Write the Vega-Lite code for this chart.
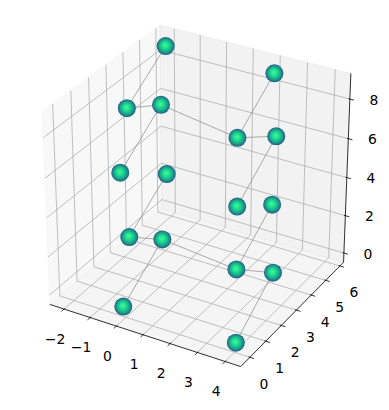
{
  "$schema": "https://vega.github.io/schema/vega-lite/v6.json",
  "width": 389,
  "height": 410,
  "padding": 0,
  "autosize": {"type": "none"},
  "background": "white",
  "config": {"view": {"stroke": null}},
  "data": {"values": [
    {"kind": "pane", "g": "px", "k": 0, "x": -2.55, "y": -0.57, "z": -0.5},
    {"kind": "pane", "g": "px", "k": 1, "x": -2.55, "y": 6.26, "z": -0.5},
    {"kind": "pane", "g": "px", "k": 2, "x": -2.55, "y": 6.26, "z": 9.27},
    {"kind": "pane", "g": "px", "k": 3, "x": -2.55, "y": -0.57, "z": 9.27},
    {"kind": "pane", "g": "py", "k": 0, "x": -2.55, "y": 6.26, "z": -0.5},
    {"kind": "pane", "g": "py", "k": 1, "x": 4.56, "y": 6.26, "z": -0.5},
    {"kind": "pane", "g": "py", "k": 2, "x": 4.56, "y": 6.26, "z": 9.27},
    {"kind": "pane", "g": "py", "k": 3, "x": -2.55, "y": 6.26, "z": 9.27},
    {"kind": "pane", "g": "pz", "k": 0, "x": -2.55, "y": -0.57, "z": -0.5},
    {"kind": "pane", "g": "pz", "k": 1, "x": 4.56, "y": -0.57, "z": -0.5},
    {"kind": "pane", "g": "pz", "k": 2, "x": 4.56, "y": 6.26, "z": -0.5},
    {"kind": "pane", "g": "pz", "k": 3, "x": -2.55, "y": 6.26, "z": -0.5},

    {"kind": "grid", "g": "gx-2", "k": 0, "x": -2, "y": -0.57, "z": -0.5},
    {"kind": "grid", "g": "gx-2", "k": 1, "x": -2, "y": 6.26, "z": -0.5},
    {"kind": "grid", "g": "gx-2", "k": 2, "x": -2, "y": 6.26, "z": 9.27},
    {"kind": "grid", "g": "gx-1", "k": 0, "x": -1, "y": -0.57, "z": -0.5},
    {"kind": "grid", "g": "gx-1", "k": 1, "x": -1, "y": 6.26, "z": -0.5},
    {"kind": "grid", "g": "gx-1", "k": 2, "x": -1, "y": 6.26, "z": 9.27},
    {"kind": "grid", "g": "gx0", "k": 0, "x": 0, "y": -0.57, "z": -0.5},
    {"kind": "grid", "g": "gx0", "k": 1, "x": 0, "y": 6.26, "z": -0.5},
    {"kind": "grid", "g": "gx0", "k": 2, "x": 0, "y": 6.26, "z": 9.27},
    {"kind": "grid", "g": "gx1", "k": 0, "x": 1, "y": -0.57, "z": -0.5},
    {"kind": "grid", "g": "gx1", "k": 1, "x": 1, "y": 6.26, "z": -0.5},
    {"kind": "grid", "g": "gx1", "k": 2, "x": 1, "y": 6.26, "z": 9.27},
    {"kind": "grid", "g": "gx2", "k": 0, "x": 2, "y": -0.57, "z": -0.5},
    {"kind": "grid", "g": "gx2", "k": 1, "x": 2, "y": 6.26, "z": -0.5},
    {"kind": "grid", "g": "gx2", "k": 2, "x": 2, "y": 6.26, "z": 9.27},
    {"kind": "grid", "g": "gx3", "k": 0, "x": 3, "y": -0.57, "z": -0.5},
    {"kind": "grid", "g": "gx3", "k": 1, "x": 3, "y": 6.26, "z": -0.5},
    {"kind": "grid", "g": "gx3", "k": 2, "x": 3, "y": 6.26, "z": 9.27},
    {"kind": "grid", "g": "gx4", "k": 0, "x": 4, "y": -0.57, "z": -0.5},
    {"kind": "grid", "g": "gx4", "k": 1, "x": 4, "y": 6.26, "z": -0.5},
    {"kind": "grid", "g": "gx4", "k": 2, "x": 4, "y": 6.26, "z": 9.27},

    {"kind": "grid", "g": "gy0", "k": 0, "x": 4.56, "y": 0, "z": -0.5},
    {"kind": "grid", "g": "gy0", "k": 1, "x": -2.55, "y": 0, "z": -0.5},
    {"kind": "grid", "g": "gy0", "k": 2, "x": -2.55, "y": 0, "z": 9.27},
    {"kind": "grid", "g": "gy1", "k": 0, "x": 4.56, "y": 1, "z": -0.5},
    {"kind": "grid", "g": "gy1", "k": 1, "x": -2.55, "y": 1, "z": -0.5},
    {"kind": "grid", "g": "gy1", "k": 2, "x": -2.55, "y": 1, "z": 9.27},
    {"kind": "grid", "g": "gy2", "k": 0, "x": 4.56, "y": 2, "z": -0.5},
    {"kind": "grid", "g": "gy2", "k": 1, "x": -2.55, "y": 2, "z": -0.5},
    {"kind": "grid", "g": "gy2", "k": 2, "x": -2.55, "y": 2, "z": 9.27},
    {"kind": "grid", "g": "gy3", "k": 0, "x": 4.56, "y": 3, "z": -0.5},
    {"kind": "grid", "g": "gy3", "k": 1, "x": -2.55, "y": 3, "z": -0.5},
    {"kind": "grid", "g": "gy3", "k": 2, "x": -2.55, "y": 3, "z": 9.27},
    {"kind": "grid", "g": "gy4", "k": 0, "x": 4.56, "y": 4, "z": -0.5},
    {"kind": "grid", "g": "gy4", "k": 1, "x": -2.55, "y": 4, "z": -0.5},
    {"kind": "grid", "g": "gy4", "k": 2, "x": -2.55, "y": 4, "z": 9.27},
    {"kind": "grid", "g": "gy5", "k": 0, "x": 4.56, "y": 5, "z": -0.5},
    {"kind": "grid", "g": "gy5", "k": 1, "x": -2.55, "y": 5, "z": -0.5},
    {"kind": "grid", "g": "gy5", "k": 2, "x": -2.55, "y": 5, "z": 9.27},
    {"kind": "grid", "g": "gy6", "k": 0, "x": 4.56, "y": 6, "z": -0.5},
    {"kind": "grid", "g": "gy6", "k": 1, "x": -2.55, "y": 6, "z": -0.5},
    {"kind": "grid", "g": "gy6", "k": 2, "x": -2.55, "y": 6, "z": 9.27},

    {"kind": "grid", "g": "gz0", "k": 0, "x": -2.55, "y": -0.57, "z": 0},
    {"kind": "grid", "g": "gz0", "k": 1, "x": -2.55, "y": 6.26, "z": 0},
    {"kind": "grid", "g": "gz0", "k": 2, "x": 4.56, "y": 6.26, "z": 0},
    {"kind": "grid", "g": "gz2", "k": 0, "x": -2.55, "y": -0.57, "z": 2},
    {"kind": "grid", "g": "gz2", "k": 1, "x": -2.55, "y": 6.26, "z": 2},
    {"kind": "grid", "g": "gz2", "k": 2, "x": 4.56, "y": 6.26, "z": 2},
    {"kind": "grid", "g": "gz4", "k": 0, "x": -2.55, "y": -0.57, "z": 4},
    {"kind": "grid", "g": "gz4", "k": 1, "x": -2.55, "y": 6.26, "z": 4},
    {"kind": "grid", "g": "gz4", "k": 2, "x": 4.56, "y": 6.26, "z": 4},
    {"kind": "grid", "g": "gz6", "k": 0, "x": -2.55, "y": -0.57, "z": 6},
    {"kind": "grid", "g": "gz6", "k": 1, "x": -2.55, "y": 6.26, "z": 6},
    {"kind": "grid", "g": "gz6", "k": 2, "x": 4.56, "y": 6.26, "z": 6},
    {"kind": "grid", "g": "gz8", "k": 0, "x": -2.55, "y": -0.57, "z": 8},
    {"kind": "grid", "g": "gz8", "k": 1, "x": -2.55, "y": 6.26, "z": 8},
    {"kind": "grid", "g": "gz8", "k": 2, "x": 4.56, "y": 6.26, "z": 8},

    {"kind": "axis", "g": "ax", "k": 0, "x": -2.55, "y": -0.57, "z": -0.5},
    {"kind": "axis", "g": "ax", "k": 1, "x": 4.56, "y": -0.57, "z": -0.5},
    {"kind": "axis", "g": "ax", "k": 2, "x": 4.56, "y": 6.26, "z": -0.5},
    {"kind": "axis", "g": "ax", "k": 3, "x": 4.56, "y": 6.26, "z": 9.27},

    {"kind": "tick", "g": "tx-2", "k": 0, "x": -2, "y": -0.52, "z": -0.5},
    {"kind": "tick", "g": "tx-2", "k": 1, "x": -2, "y": -0.72, "z": -0.5},
    {"kind": "tick", "g": "tx-1", "k": 0, "x": -1, "y": -0.52, "z": -0.5},
    {"kind": "tick", "g": "tx-1", "k": 1, "x": -1, "y": -0.72, "z": -0.5},
    {"kind": "tick", "g": "tx0", "k": 0, "x": 0, "y": -0.52, "z": -0.5},
    {"kind": "tick", "g": "tx0", "k": 1, "x": 0, "y": -0.72, "z": -0.5},
    {"kind": "tick", "g": "tx1", "k": 0, "x": 1, "y": -0.52, "z": -0.5},
    {"kind": "tick", "g": "tx1", "k": 1, "x": 1, "y": -0.72, "z": -0.5},
    {"kind": "tick", "g": "tx2", "k": 0, "x": 2, "y": -0.52, "z": -0.5},
    {"kind": "tick", "g": "tx2", "k": 1, "x": 2, "y": -0.72, "z": -0.5},
    {"kind": "tick", "g": "tx3", "k": 0, "x": 3, "y": -0.52, "z": -0.5},
    {"kind": "tick", "g": "tx3", "k": 1, "x": 3, "y": -0.72, "z": -0.5},
    {"kind": "tick", "g": "tx4", "k": 0, "x": 4, "y": -0.52, "z": -0.5},
    {"kind": "tick", "g": "tx4", "k": 1, "x": 4, "y": -0.72, "z": -0.5},
    {"kind": "tick", "g": "ty0", "k": 0, "x": 4.51, "y": 0, "z": -0.5},
    {"kind": "tick", "g": "ty0", "k": 1, "x": 4.71, "y": 0, "z": -0.5},
    {"kind": "tick", "g": "ty1", "k": 0, "x": 4.51, "y": 1, "z": -0.5},
    {"kind": "tick", "g": "ty1", "k": 1, "x": 4.71, "y": 1, "z": -0.5},
    {"kind": "tick", "g": "ty2", "k": 0, "x": 4.51, "y": 2, "z": -0.5},
    {"kind": "tick", "g": "ty2", "k": 1, "x": 4.71, "y": 2, "z": -0.5},
    {"kind": "tick", "g": "ty3", "k": 0, "x": 4.51, "y": 3, "z": -0.5},
    {"kind": "tick", "g": "ty3", "k": 1, "x": 4.71, "y": 3, "z": -0.5},
    {"kind": "tick", "g": "ty4", "k": 0, "x": 4.51, "y": 4, "z": -0.5},
    {"kind": "tick", "g": "ty4", "k": 1, "x": 4.71, "y": 4, "z": -0.5},
    {"kind": "tick", "g": "ty5", "k": 0, "x": 4.51, "y": 5, "z": -0.5},
    {"kind": "tick", "g": "ty5", "k": 1, "x": 4.71, "y": 5, "z": -0.5},
    {"kind": "tick", "g": "ty6", "k": 0, "x": 4.51, "y": 6, "z": -0.5},
    {"kind": "tick", "g": "ty6", "k": 1, "x": 4.71, "y": 6, "z": -0.5},
    {"kind": "tick", "g": "tz0", "k": 0, "x": 4.51, "y": 6.26, "z": 0},
    {"kind": "tick", "g": "tz0", "k": 1, "x": 4.71, "y": 6.26, "z": 0},
    {"kind": "tick", "g": "tz2", "k": 0, "x": 4.51, "y": 6.26, "z": 2},
    {"kind": "tick", "g": "tz2", "k": 1, "x": 4.71, "y": 6.26, "z": 2},
    {"kind": "tick", "g": "tz4", "k": 0, "x": 4.51, "y": 6.26, "z": 4},
    {"kind": "tick", "g": "tz4", "k": 1, "x": 4.71, "y": 6.26, "z": 4},
    {"kind": "tick", "g": "tz6", "k": 0, "x": 4.51, "y": 6.26, "z": 6},
    {"kind": "tick", "g": "tz6", "k": 1, "x": 4.71, "y": 6.26, "z": 6},
    {"kind": "tick", "g": "tz8", "k": 0, "x": 4.51, "y": 6.26, "z": 8},
    {"kind": "tick", "g": "tz8", "k": 1, "x": 4.71, "y": 6.26, "z": 8},

    {"kind": "lab", "g": "x", "t": "−2", "x": -2, "y": -0.57, "z": -0.5},
    {"kind": "lab", "g": "x", "t": "−1", "x": -1, "y": -0.57, "z": -0.5},
    {"kind": "lab", "g": "x", "t": "0", "x": 0, "y": -0.57, "z": -0.5},
    {"kind": "lab", "g": "x", "t": "1", "x": 1, "y": -0.57, "z": -0.5},
    {"kind": "lab", "g": "x", "t": "2", "x": 2, "y": -0.57, "z": -0.5},
    {"kind": "lab", "g": "x", "t": "3", "x": 3, "y": -0.57, "z": -0.5},
    {"kind": "lab", "g": "x", "t": "4", "x": 4, "y": -0.57, "z": -0.5},
    {"kind": "lab", "g": "y", "t": "0", "x": 4.56, "y": 0, "z": -0.5},
    {"kind": "lab", "g": "y", "t": "1", "x": 4.56, "y": 1, "z": -0.5},
    {"kind": "lab", "g": "y", "t": "2", "x": 4.56, "y": 2, "z": -0.5},
    {"kind": "lab", "g": "y", "t": "3", "x": 4.56, "y": 3, "z": -0.5},
    {"kind": "lab", "g": "y", "t": "4", "x": 4.56, "y": 4, "z": -0.5},
    {"kind": "lab", "g": "y", "t": "5", "x": 4.56, "y": 5, "z": -0.5},
    {"kind": "lab", "g": "y", "t": "6", "x": 4.56, "y": 6, "z": -0.5},
    {"kind": "lab", "g": "z", "t": "0", "x": 4.56, "y": 6.26, "z": 0},
    {"kind": "lab", "g": "z", "t": "2", "x": 4.56, "y": 6.26, "z": 2},
    {"kind": "lab", "g": "z", "t": "4", "x": 4.56, "y": 6.26, "z": 4},
    {"kind": "lab", "g": "z", "t": "6", "x": 4.56, "y": 6.26, "z": 6},
    {"kind": "lab", "g": "z", "t": "8", "x": 4.56, "y": 6.26, "z": 8},

    {"kind": "edge", "g": "e1", "k": 0, "x": -2.05, "y": 5.8, "z": 8.65},
    {"kind": "edge", "g": "e1", "k": 1, "x": -1.72, "y": 2.9, "z": 7.46},
    {"kind": "edge", "g": "e2", "k": 0, "x": -1.72, "y": 2.9, "z": 7.46},
    {"kind": "edge", "g": "e2", "k": 1, "x": -0.43, "y": 2.9, "z": 8.10},
    {"kind": "edge", "g": "e3", "k": 0, "x": -0.43, "y": 2.9, "z": 8.10},
    {"kind": "edge", "g": "e3", "k": 1, "x": -0.11, "y": 0, "z": 6.83},
    {"kind": "edge", "g": "e4", "k": 0, "x": -0.43, "y": 2.9, "z": 8.10},
    {"kind": "edge", "g": "e4", "k": 1, "x": 2.37, "y": 2.9, "z": 7.50},
    {"kind": "edge", "g": "e5", "k": 0, "x": 2.05, "y": 5.8, "z": 8.69},
    {"kind": "edge", "g": "e5", "k": 1, "x": 2.37, "y": 2.9, "z": 7.50},
    {"kind": "edge", "g": "e6", "k": 0, "x": 2.37, "y": 2.9, "z": 7.50},
    {"kind": "edge", "g": "e6", "k": 1, "x": 3.75, "y": 2.9, "z": 8.09},
    {"kind": "edge", "g": "e7", "k": 0, "x": 3.75, "y": 2.9, "z": 8.09},
    {"kind": "edge", "g": "e7", "k": 1, "x": 4.05, "y": 0, "z": 6.83},
    {"kind": "edge", "g": "e8", "k": 0, "x": -2.05, "y": 5.8, "z": 1.93},
    {"kind": "edge", "g": "e8", "k": 1, "x": -1.72, "y": 2.9, "z": 0.77},
    {"kind": "edge", "g": "e9", "k": 0, "x": -1.72, "y": 2.9, "z": 0.77},
    {"kind": "edge", "g": "e9", "k": 1, "x": -0.43, "y": 2.9, "z": 1.18},
    {"kind": "edge", "g": "e10", "k": 0, "x": -0.43, "y": 2.9, "z": 1.18},
    {"kind": "edge", "g": "e10", "k": 1, "x": -0.10, "y": 0, "z": 0.02},
    {"kind": "edge", "g": "e11", "k": 0, "x": -0.43, "y": 2.9, "z": 1.18},
    {"kind": "edge", "g": "e11", "k": 1, "x": 2.38, "y": 2.9, "z": 0.78},
    {"kind": "edge", "g": "e12", "k": 0, "x": 2.06, "y": 5.8, "z": 1.91},
    {"kind": "edge", "g": "e12", "k": 1, "x": 2.38, "y": 2.9, "z": 0.78},
    {"kind": "edge", "g": "e13", "k": 0, "x": 2.38, "y": 2.9, "z": 0.78},
    {"kind": "edge", "g": "e13", "k": 1, "x": 3.73, "y": 2.9, "z": 1.19},
    {"kind": "edge", "g": "e14", "k": 0, "x": 3.73, "y": 2.9, "z": 1.19},
    {"kind": "edge", "g": "e14", "k": 1, "x": 4.05, "y": 0, "z": 0.02},

    {"kind": "pt", "g": "P1", "x": -2.05, "y": 5.8, "z": 8.65},
    {"kind": "pt", "g": "P2", "x": -1.72, "y": 2.9, "z": 7.46},
    {"kind": "pt", "g": "P3", "x": -0.43, "y": 2.9, "z": 8.10},
    {"kind": "pt", "g": "P4", "x": -0.11, "y": 0, "z": 6.83},
    {"kind": "pt", "g": "P5", "x": -2.05, "y": 5.8, "z": 1.93},
    {"kind": "pt", "g": "P6", "x": -1.72, "y": 2.9, "z": 0.77},
    {"kind": "pt", "g": "P7", "x": -0.43, "y": 2.9, "z": 1.18},
    {"kind": "pt", "g": "P8", "x": -0.10, "y": 0, "z": 0.02},
    {"kind": "pt", "g": "P9", "x": 2.05, "y": 5.8, "z": 8.69},
    {"kind": "pt", "g": "P10", "x": 2.37, "y": 2.9, "z": 7.50},
    {"kind": "pt", "g": "P11", "x": 3.75, "y": 2.9, "z": 8.09},
    {"kind": "pt", "g": "P12", "x": 4.05, "y": 0, "z": 6.83},
    {"kind": "pt", "g": "P13", "x": 2.06, "y": 5.8, "z": 1.91},
    {"kind": "pt", "g": "P14", "x": 2.38, "y": 2.9, "z": 0.78},
    {"kind": "pt", "g": "P15", "x": 3.73, "y": 2.9, "z": 1.19},
    {"kind": "pt", "g": "P16", "x": 4.05, "y": 0, "z": 0.02}
  ]},
  "transform": [
    {"calculate": "(datum.x - 1.005) / 7.11", "as": "qx"},
    {"calculate": "(datum.y - 2.845) / 6.83", "as": "qy"},
    {"calculate": "(datum.z - 4.385) / 9.77", "as": "qz"},
    {"calculate": "10 - 0.4330127 * datum.qx + 0.75 * datum.qy - 0.5 * datum.qz", "as": "dd"},
    {"calculate": "(0.8660254 * datum.qx + 0.5 * datum.qy) / datum.dd", "as": "sx"},
    {"calculate": "(-0.25 * datum.qx + 0.4330127 * datum.qy + 0.8660254 * datum.qz) / datum.dd", "as": "sy"}
  ],
  "encoding": {
    "x": {"field": "sx", "type": "quantitative", "scale": {"domain": [-0.090331, 0.086246], "nice": false, "zero": false}, "axis": null},
    "y": {"field": "sy", "type": "quantitative", "scale": {"domain": [-0.099909, 0.086285], "nice": false, "zero": false}, "axis": null}
  },
  "layer": [
    {
      "transform": [{"filter": "datum.g === 'px'"}],
      "mark": {"type": "line", "fill": "#f2f2f2", "fillOpacity": 0.5, "stroke": "#f2f2f2", "strokeOpacity": 0.5, "strokeWidth": 1, "interpolate": "linear-closed"},
      "encoding": {"order": {"field": "k", "type": "quantitative"}}
    },
    {
      "transform": [{"filter": "datum.g === 'py'"}],
      "mark": {"type": "line", "fill": "#e6e6e6", "fillOpacity": 0.5, "stroke": "#e6e6e6", "strokeOpacity": 0.5, "strokeWidth": 1, "interpolate": "linear-closed"},
      "encoding": {"order": {"field": "k", "type": "quantitative"}}
    },
    {
      "transform": [{"filter": "datum.g === 'pz'"}],
      "mark": {"type": "line", "fill": "#ececec", "fillOpacity": 0.5, "stroke": "#ececec", "strokeOpacity": 0.5, "strokeWidth": 1, "interpolate": "linear-closed"},
      "encoding": {"order": {"field": "k", "type": "quantitative"}}
    },
    {
      "transform": [{"filter": "datum.kind === 'grid'"}],
      "mark": {"type": "line", "stroke": "#b0b0b0", "strokeWidth": 0.8},
      "encoding": {"detail": {"field": "g"}, "order": {"field": "k", "type": "quantitative"}}
    },
    {
      "transform": [{"filter": "datum.kind === 'axis'"}],
      "mark": {"type": "line", "stroke": "black", "strokeWidth": 0.8},
      "encoding": {"order": {"field": "k", "type": "quantitative"}}
    },
    {
      "transform": [{"filter": "datum.kind === 'tick'"}],
      "mark": {"type": "line", "stroke": "black", "strokeWidth": 0.8},
      "encoding": {"detail": {"field": "g"}, "order": {"field": "k", "type": "quantitative"}}
    },
    {
      "transform": [{"filter": "datum.kind === 'lab' && datum.g === 'x'"}],
      "mark": {"type": "text", "font": "DejaVu Sans", "fontSize": 13.9, "fill": "black", "align": "center", "baseline": "middle", "dx": -9, "dy": 30.5},
      "encoding": {"text": {"field": "t"}}
    },
    {
      "transform": [{"filter": "datum.kind === 'lab' && datum.g === 'y'"}],
      "mark": {"type": "text", "font": "DejaVu Sans", "fontSize": 13.9, "fill": "black", "align": "center", "baseline": "middle", "dx": 14, "dy": 27.5},
      "encoding": {"text": {"field": "t"}}
    },
    {
      "transform": [{"filter": "datum.kind === 'lab' && datum.g === 'z'"}],
      "mark": {"type": "text", "font": "DejaVu Sans", "fontSize": 13.9, "fill": "black", "align": "center", "baseline": "middle", "dx": 24, "dy": 1.5},
      "encoding": {"text": {"field": "t"}}
    },
    {
      "transform": [{"filter": "datum.kind === 'edge'"}],
      "mark": {"type": "line", "stroke": "#888888", "strokeWidth": 0.7},
      "encoding": {"detail": {"field": "g"}, "order": {"field": "k", "type": "quantitative"}}
    },
    {
      "transform": [{"filter": "datum.kind === 'pt'"}],
      "mark": {
        "type": "point", "shape": "circle", "filled": true, "size": 324, "opacity": 1, "strokeWidth": 0,
        "fill": {"gradient": "radial", "x1": 0.46, "y1": 0.44, "r1": 0, "x2": 0.5, "y2": 0.5, "r2": 0.5,
          "stops": [
            {"offset": 0, "color": "#3cfca2"},
            {"offset": 0.3, "color": "#25e490"},
            {"offset": 0.6, "color": "#19b889"},
            {"offset": 0.82, "color": "#1b8b8a"},
            {"offset": 1, "color": "#27568a"}
          ]}
      },
      "encoding": {"detail": {"field": "g"}}
    }
  ]
}
